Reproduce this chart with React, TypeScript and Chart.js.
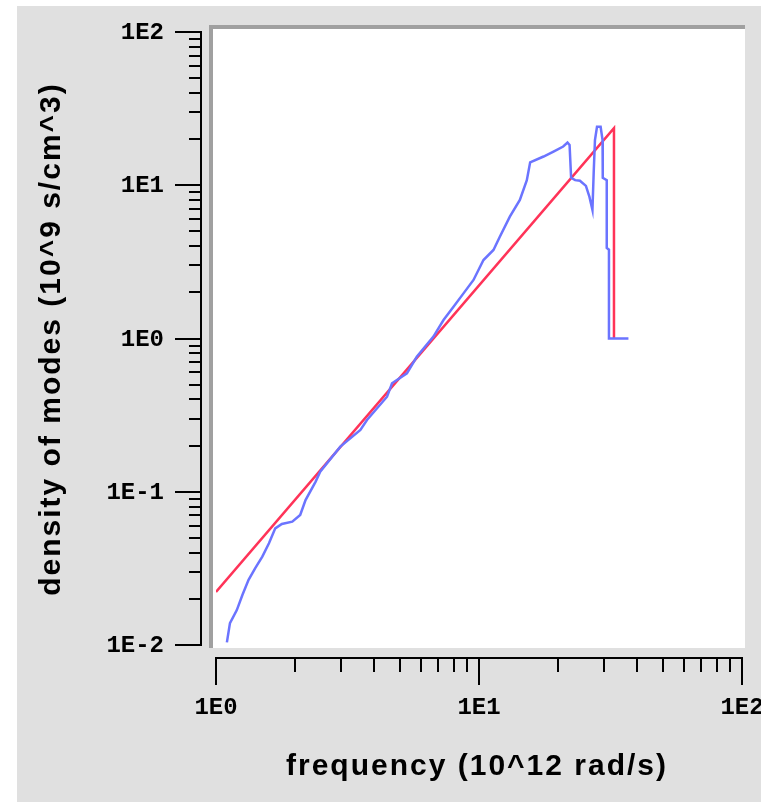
import React, { useEffect, useRef } from 'react';
import { Chart, registerables } from 'chart.js';

Chart.register(...registerables);

// Blue: computed density of modes
const blueX = [1.10, 1.13, 1.20, 1.26, 1.33, 1.41, 1.50, 1.59, 1.68, 1.78, 1.95, 2.09, 2.19, 2.39, 2.49, 2.97, 3.54, 3.75, 4.47, 4.67, 5.32, 5.80, 6.71, 7.33, 8.00, 8.73, 9.53, 10.4, 11.35, 12.0, 13.1, 14.3, 15.2, 15.65, 17.6, 19.2, 20.9, 21.7, 22.1, 22.4, 23.2, 24.2, 25.5, 26.3, 27.0, 27.3, 27.6, 28.1, 29.0, 29.5, 29.55, 30.6, 30.6, 31.2, 31.2, 37.0];
const blueY = [0.0104, 0.0139, 0.0169, 0.0212, 0.0266, 0.0317, 0.0377, 0.0461, 0.0577, 0.0616, 0.0638, 0.0705, 0.0883, 0.116, 0.135, 0.197, 0.253, 0.294, 0.417, 0.510, 0.593, 0.760, 1.03, 1.32, 1.61, 1.97, 2.41, 3.25, 3.78, 4.61, 6.24, 8.01, 10.8, 14.1, 15.4, 16.6, 17.9, 19.0, 18.3, 11.2, 10.8, 10.7, 9.9, 8.4, 6.9, 12.2, 19.7, 24.1, 24.1, 19.7, 11.2, 10.8, 3.9, 3.8, 1.0, 1.0];

// Red: Debye model
const redX = [1, 32.6, 32.6];
const redY = [0.0222, 23.6, 1.0];

const xMajorTicks = [1, 10, 100];
const xMajorLabels = ['1E0', '1E1', '1E2'];
const xMinorTicks = [2, 3, 4, 5, 6, 7, 8, 9, 20, 30, 40, 50, 60, 70, 80, 90];
const yMajorTicks = [0.01, 0.1, 1, 10, 100];
const yMajorLabels = ['1E-2', '1E-1', '1E0', '1E1', '1E2'];
const yMinorTicks = [0.02, 0.03, 0.04, 0.05, 0.06, 0.07, 0.08, 0.09, 0.2, 0.3, 0.4, 0.5, 0.6, 0.7, 0.8, 0.9, 2, 3, 4, 5, 6, 7, 8, 9, 20, 30, 40, 50, 60, 70, 80, 90];

const xTitle = 'frequency (10^12 rad/s)';
const yTitle = 'density of modes (10^9 s/cm^3)';

const framePlugin = {
  id: 'frame',
  beforeDraw(chart: any) {
    const { ctx, chartArea: a, width, height } = chart;
    ctx.save();
    ctx.fillStyle = '#ffffff';
    ctx.fillRect(0, 0, width, height);
    ctx.fillStyle = '#e0e0e0';
    ctx.fillRect(17, 6, width - 17, 796);
    ctx.fillStyle = '#a0a0a0';
    ctx.fillRect(a.left - 7, a.top - 7, a.right - a.left + 10, a.bottom - a.top + 10);
    ctx.fillStyle = '#ffffff';
    ctx.fillRect(a.left - 3, a.top - 3, a.right - a.left + 6, a.bottom - a.top + 6);
    ctx.restore();
  },
  afterDraw(chart: any) {
    const { ctx, chartArea: a } = chart;
    const xs = chart.scales.x;
    const ys = chart.scales.y;
    ctx.save();
    ctx.strokeStyle = '#000000';
    ctx.fillStyle = '#000000';
    ctx.lineWidth = 2;

    // Y axis
    const axX = a.left - 15;
    ctx.beginPath();
    ctx.moveTo(axX, Math.round(ys.getPixelForValue(100)) - 1);
    ctx.lineTo(axX, Math.round(ys.getPixelForValue(0.01)) + 1);
    ctx.stroke();
    yMajorTicks.forEach((v) => {
      const py = Math.round(ys.getPixelForValue(v));
      ctx.beginPath();
      ctx.moveTo(axX - 26, py);
      ctx.lineTo(axX, py);
      ctx.stroke();
    });
    yMinorTicks.forEach((v) => {
      const py = Math.round(ys.getPixelForValue(v));
      ctx.beginPath();
      ctx.moveTo(axX - 12, py);
      ctx.lineTo(axX, py);
      ctx.stroke();
    });
    ctx.font = 'bold 24px "Liberation Mono"';
    ctx.textAlign = 'right';
    ctx.textBaseline = 'middle';
    yMajorTicks.forEach((v, i) => {
      ctx.fillText(yMajorLabels[i], axX - 37, ys.getPixelForValue(v) + 1);
    });

    // X axis
    const axY = a.bottom + 13;
    ctx.beginPath();
    ctx.moveTo(Math.round(xs.getPixelForValue(1)) - 1, axY);
    ctx.lineTo(Math.round(xs.getPixelForValue(100)) + 1, axY);
    ctx.stroke();
    xMajorTicks.forEach((v) => {
      const px = Math.round(xs.getPixelForValue(v));
      ctx.beginPath();
      ctx.moveTo(px, axY);
      ctx.lineTo(px, axY + 27);
      ctx.stroke();
    });
    xMinorTicks.forEach((v) => {
      const px = Math.round(xs.getPixelForValue(v));
      ctx.beginPath();
      ctx.moveTo(px, axY);
      ctx.lineTo(px, axY + 14);
      ctx.stroke();
    });
    ctx.textAlign = 'center';
    xMajorTicks.forEach((v, i) => {
      ctx.fillText(xMajorLabels[i], xs.getPixelForValue(v), axY + 50);
    });

    // Titles
    ctx.font = 'bold 30px "Liberation Sans"';
    (ctx as any).letterSpacing = '2px';
    ctx.textAlign = 'center';
    ctx.textBaseline = 'alphabetic';
    ctx.fillText(xTitle, 477, 775);
    ctx.translate(60, 339);
    ctx.rotate(-Math.PI / 2);
    ctx.fillText(yTitle, 0, 0);
    ctx.restore();
  },
};

export default function App() {
  const ref = useRef<HTMLCanvasElement | null>(null);
  useEffect(() => {
    if (!ref.current) return;
    const chart = new Chart(ref.current, {
      type: 'scatter',
      data: {
        datasets: [
          {
            data: blueX.map((x, i) => ({ x, y: blueY[i] })),
            showLine: true,
            borderColor: '#6b74ff',
            borderWidth: 2.5,
            pointRadius: 0,
          },
          {
            data: redX.map((x, i) => ({ x, y: redY[i] })),
            showLine: true,
            borderColor: '#ff3358',
            borderWidth: 2.5,
            pointRadius: 0,
          },
        ],
      },
      options: {
        responsive: false,
        animation: false,
        layout: { padding: { left: 216, top: 32, right: 19, bottom: 159 } },
        plugins: { legend: { display: false }, tooltip: { enabled: false } },
        scales: {
          x: { type: 'logarithmic', min: 1, max: 100, display: false },
          y: { type: 'logarithmic', min: 0.01, max: 100, display: false },
        },
      },
      plugins: [framePlugin],
    } as any);
    return () => chart.destroy();
  }, []);
  return (
    <div style={{ position: 'absolute', left: 0, top: 0, width: 761, height: 804 }}>
      <canvas ref={ref} width={761} height={804} style={{ display: 'block' }} />
    </div>
  );
}
